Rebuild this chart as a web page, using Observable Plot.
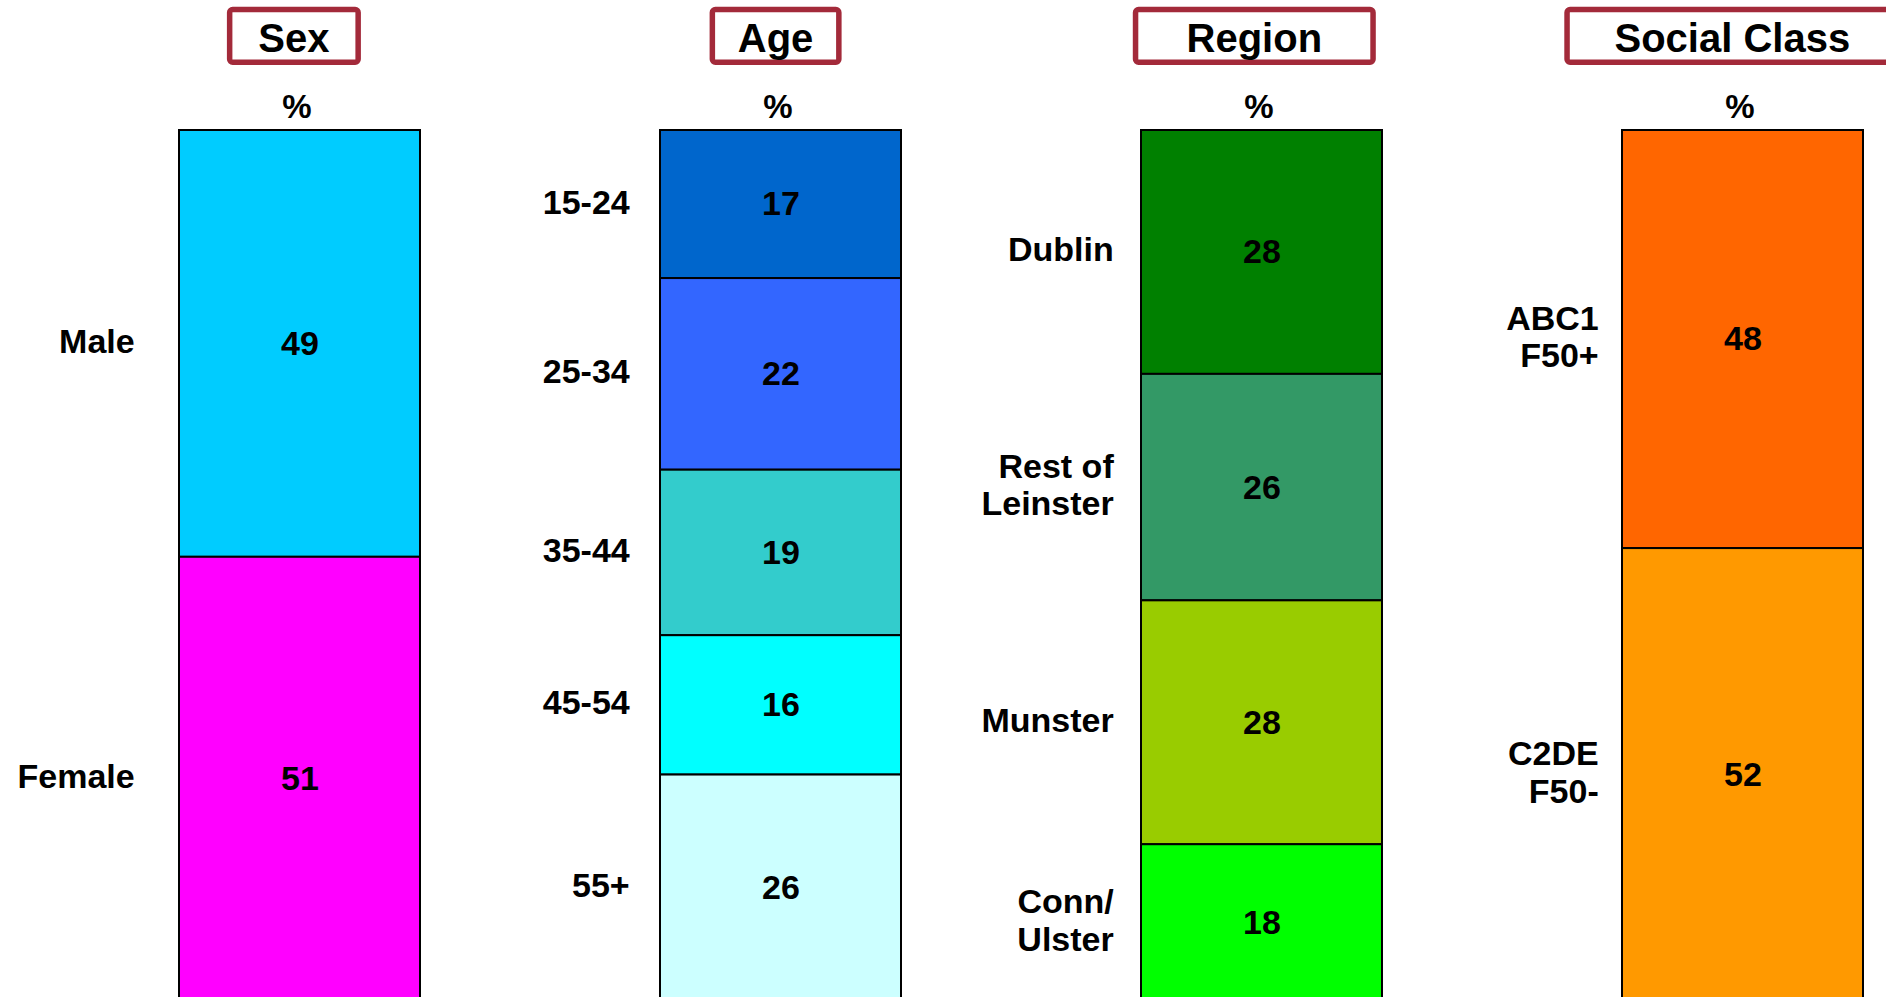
<!DOCTYPE html>
<html><head><meta charset="utf-8">
<script src="https://cdn.jsdelivr.net/npm/d3@7"></script>
<script src="https://cdn.jsdelivr.net/npm/@observablehq/plot@0.6"></script>
<style>
html,body{margin:0;padding:0;background:#fff;overflow:hidden;}
#chart svg{display:block;}
</style>
</head><body><div id="chart"></div>
<script>
// ---- data ----
const panels = ["Sex", "Age", "Region", "Social Class"];

const sexCategories = ["Male", "Female"];
const sexValues = [49, 51];
const sexColors = ["#00CCFF", "#FF00FF"];

const ageCategories = ["15-24", "25-34", "35-44", "45-54", "55+"];
const ageValues = [17, 22, 19, 16, 26];
const ageColors = ["#0066CC", "#3366FF", "#33CCCC", "#00FFFF", "#CCFFFF"];

const regionCategories = ["Dublin", "Rest of\nLeinster", "Munster", "Conn/\nUlster"];
const regionValues = [28, 26, 28, 18];
const regionColors = ["#008000", "#339966", "#99CC00", "#00FF00"];

const classCategories = ["ABC1\nF50+", "C2DE\nF50-"];
const classValues = [48, 52];
const classColors = ["#FF6600", "#FF9900"];

const unitLabel = "%";

const groups = [
  {panel: panels[0], categories: sexCategories, values: sexValues, colors: sexColors},
  {panel: panels[1], categories: ageCategories, values: ageValues, colors: ageColors},
  {panel: panels[2], categories: regionCategories, values: regionValues, colors: regionColors},
  {panel: panels[3], categories: classCategories, values: classValues, colors: classColors}
];
const rows = groups.flatMap(g => g.categories.map((c, i) => ({
  panel: g.panel, category: c, value: g.values[i], color: g.colors[i]
})));

// ---- layout / style (not data) ----
const FONT = "'Liberation Sans', Arial, Helvetica, sans-serif";
const layout = {
  width: 1886, height: 997,
  barRange: [179, 1863], yRange: [130, 1001],
  labelGap: {"Sex": 45, "Age": 31, "Region": 28, "Social Class": 24},
  titleBoxWidth: {"Sex": 134, "Age": 132, "Region": 243, "Social Class": 336},
  titleDx: {"Sex": -5.6, "Age": -4.9, "Region": -7.2, "Social Class": -10.2},
  boxTop: 6.7, boxBottom: 65, boxStroke: 5.5, boxColor: "#A32A3A"
};

function titleBoxes(index, scales) {
  const sx = scales.x;
  const bw = sx.bandwidth ? sx.bandwidth() : 0;
  const g = d3.create("svg:g");
  for (const p of panels) {
    const cx = sx(p) + bw / 2 + layout.titleDx[p];
    const w = layout.titleBoxWidth[p];
    const s = layout.boxStroke;
    g.append("rect")
      .attr("x", cx - w / 2 + s / 2)
      .attr("y", layout.boxTop + s / 2)
      .attr("width", w - s)
      .attr("height", layout.boxBottom - layout.boxTop - s)
      .attr("rx", 3)
      .attr("fill", "white")
      .attr("stroke", layout.boxColor)
      .attr("stroke-width", s);
    g.append("text")
      .attr("x", cx)
      .attr("y", 52)
      .attr("text-anchor", "middle")
      .attr("font-family", FONT)
      .attr("font-weight", "bold")
      .attr("font-size", 40)
      .attr("fill", "black")
      .text(p);
  }
  return g.node();
}

// band step = range / (n - paddingInner); bandwidth = step * (1 - paddingInner)
const step = (layout.barRange[1] - layout.barRange[0]) / (panels.length - 0.5);
const bandwidthHalf = step * 0.5 / 2;

const labelMarks = panels.map(p => Plot.text(rows.filter(d => d.panel === p), Plot.stackY({
  x: "panel", y: "value", text: "category",
  textAnchor: "end", lineAnchor: "middle", lineHeight: 1.1,
  dx: -(bandwidthHalf + layout.labelGap[p]), dy: -3,
  fontSize: 34, fontWeight: "bold", fontFamily: FONT, fill: "black"
})));

const chart = Plot.plot({
  width: layout.width,
  height: layout.height,
  marginTop: layout.yRange[0],
  marginBottom: 0,
  marginLeft: 0,
  marginRight: 0,
  style: {background: "white", overflow: "hidden"},
  x: {domain: panels, range: layout.barRange, paddingInner: 0.5, paddingOuter: 0, align: 0.5, axis: null},
  y: {domain: [0, 100], range: layout.yRange, axis: null},
  color: {type: "identity"},
  marks: [
    Plot.barY(rows, Plot.stackY({
      x: "panel", y: "value", fill: "color",
      stroke: "black", strokeWidth: 2, inset: 0
    })),
    Plot.text(rows, Plot.stackY({
      x: "panel", y: "value", text: d => String(d.value),
      fontSize: 34, fontWeight: "bold", fontFamily: FONT, fill: "black"
    })),
    ...labelMarks,
    Plot.text(panels, {
      x: d => d, text: () => unitLabel, frameAnchor: "top", lineAnchor: "middle",
      dy: -22.6, dx: -3,
      fontSize: 33, fontWeight: "bold", fontFamily: FONT, fill: "black"
    }),
    titleBoxes
  ]
});

document.getElementById("chart").appendChild(chart);
</script>
</body></html>
